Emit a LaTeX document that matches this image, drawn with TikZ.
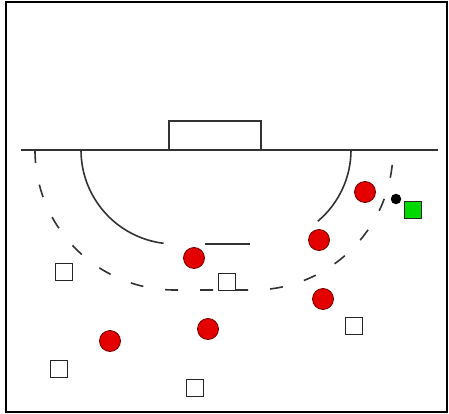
\documentclass[tikz,border=0pt]{standalone}
\usepackage{tikz}

\begin{document}
\begin{tikzpicture}[
  x=1pt, y=-1pt,
  courtline/.style={draw=black!80, line width=1.6pt},
  attacker/.style={circle, draw=black!55!red, fill=red!90!black, line width=0.8pt, minimum size=21pt, inner sep=0pt},
  defender/.style={rectangle, draw=black!85, fill=white, line width=1.3pt, minimum size=17pt, inner sep=0pt},
  keeper/.style={defender, fill=green!85!black},
  ball/.style={circle, fill=black, minimum size=10.5pt, inner sep=0pt}
]
\fill[white] (0,0) rectangle (449,414);
\draw[line width=2.6pt] (6,2) rectangle (447,412);
\draw[courtline] (21,150) -- (438,150);
\draw[courtline] (169,150) -- (169,121) -- (261,121) -- (261,150);
\draw[courtline] (81,150) arc[start angle=180, end angle=97, radius=94];
\draw[courtline] (205,244) -- (250,244);
\draw[courtline] (351,150) arc[start angle=0, end angle=50, radius=93];
\draw[courtline, dash pattern=on 13pt off 22pt] (35,150) arc[start angle=180, end angle=90, radius=140]
  -- (253,290) arc[start angle=90, end angle=0, radius=140];
\node[attacker] (a1) at (365,192) {};
\node[attacker] (a2) at (319,240) {};
\node[attacker] (a3) at (194,258) {};
\node[attacker] (a4) at (323,299) {};
\node[attacker] (a5) at (208,329) {};
\node[attacker] (a6) at (110,341) {};
\node[ball] (b) at (396,199) {};
\node[keeper] (gk) at (413,210) {};
\node[defender] (d1) at (64,272) {};
\node[defender] (d2) at (227,282) {};
\node[defender] (d3) at (354,326) {};
\node[defender] (d4) at (59,369) {};
\node[defender] (d5) at (195,388) {};
\end{tikzpicture}
\end{document}
